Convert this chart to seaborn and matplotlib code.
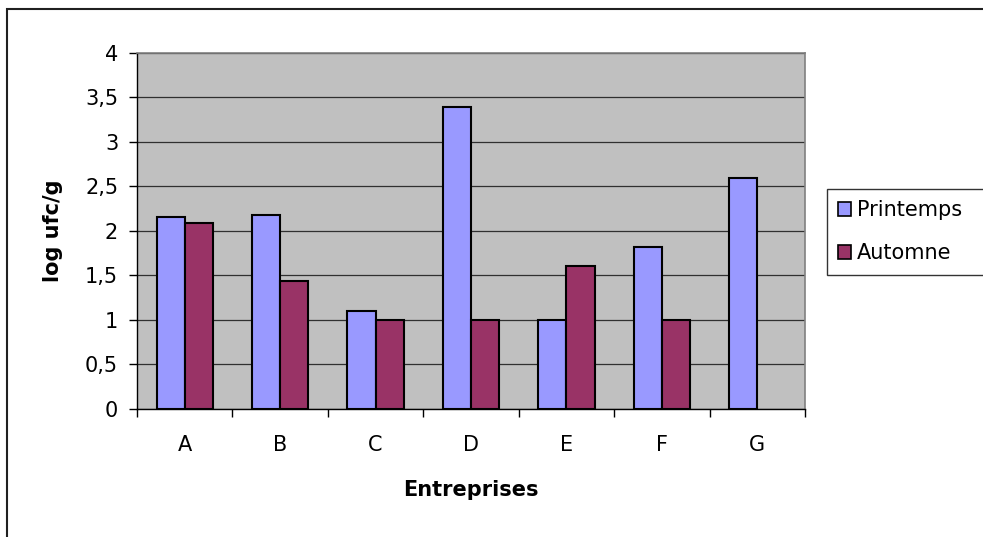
import numpy as np
import pandas as pd
import matplotlib
matplotlib.use("Agg")
import matplotlib.pyplot as plt
import seaborn as sns
from matplotlib.patches import Rectangle
from matplotlib.ticker import FixedLocator, FuncFormatter

# ─── Data ────────────────────────────────────────────────────────────────────
entreprises = ["A", "B", "C", "D", "E", "F", "G"]
printemps = [2.16, 2.18, 1.10, 3.39, 1.00, 1.82, 2.59]
automne = [2.09, 1.44, 1.00, 1.00, 1.60, 1.00, np.nan]
saisons = ["Printemps", "Automne"]

df = pd.DataFrame({
    "Entreprises": entreprises * 2,
    "valeur": printemps + automne,
    "saison": [saisons[0]] * len(entreprises) + [saisons[1]] * len(entreprises),
})

# ─── Figure ──────────────────────────────────────────────────────────────────
sns.set_theme(style="white")
# the reference text is wide, DejaVu Sans fits its extents better than Arial
plt.rcParams["font.family"] = ["DejaVu Sans"]
plt.rcParams.update({"text.color": "black", "axes.labelcolor": "black",
                     "xtick.color": "black", "ytick.color": "black"})
FS = 15

fig = plt.figure(figsize=(9.83, 5.37), dpi=100)
ax = fig.add_axes([137 / 983, 1 - 409 / 537, 668 / 983, 356.3 / 537])
ax.set_facecolor("#C0C0C0")

# outer chart frame (runs off the right and bottom edges)
fig.patches.append(Rectangle((6.5 / 983, -0.02), 1.0, 1 - 8.5 / 537 + 0.02,
                             transform=fig.transFigure, fill=False,
                             edgecolor="#202020", linewidth=1.5))

sns.barplot(data=df, x="Entreprises", y="valeur", hue="saison",
            hue_order=saisons, order=entreprises,
            palette=["#9999FF", "#993366"], width=0.59,
            edgecolor="black", linewidth=1.5, saturation=1,
            errorbar=None, ax=ax, zorder=3)

ax.set_ylim(0, 4)
ax.set_xlim(-0.5, len(entreprises) - 0.5)
ax.yaxis.set_major_locator(FixedLocator(np.arange(0, 4.01, 0.5)))
ax.yaxis.set_major_formatter(FuncFormatter(lambda v, p: f"{v:g}".replace(".", ",")))
ax.grid(axis="y", color="#303030", linewidth=0.9, zorder=1)
ax.set_axisbelow(True)

ax.xaxis.set_minor_locator(FixedLocator(np.arange(-0.5, len(entreprises), 1.0)))
ax.tick_params(axis="x", which="major", length=0, pad=18.5, labelsize=FS)
ax.tick_params(axis="x", which="minor", length=5.5, width=1, color="black",
               direction="out", bottom=True)
ax.tick_params(axis="y", length=6, width=1, color="black", direction="out",
               left=True, pad=7.5, labelsize=FS)

for side in ["top", "right"]:
    ax.spines[side].set_color("#808080")
    ax.spines[side].set_linewidth(1.2)
for side in ["left", "bottom"]:
    ax.spines[side].set_color("black")
    ax.spines[side].set_linewidth(1.0)

ax.set_xlabel("Entreprises", fontsize=FS, fontweight="bold", labelpad=18)
ax.set_ylabel("log ufc/g", fontsize=FS, fontweight="bold", labelpad=16)

ax.legend_.remove()
handles = [Rectangle((0, 0), 1, 1, facecolor=c, edgecolor="black", linewidth=1.2)
           for c in ["#9999FF", "#993366"]]
leg = fig.legend(handles, saisons, loc="upper left",
                 bbox_to_anchor=(827 / 983, 1 - 189 / 537, 0.2, 0.0),
                 mode="expand", fontsize=FS, frameon=True, fancybox=False,
                 handlelength=0.6, handleheight=0.6, handletextpad=0.3,
                 labelspacing=1.1, borderpad=0.55, borderaxespad=0)
leg.get_frame().set_edgecolor("black")
leg.get_frame().set_linewidth(1.0)

fig.savefig("out.png", dpi=100)
